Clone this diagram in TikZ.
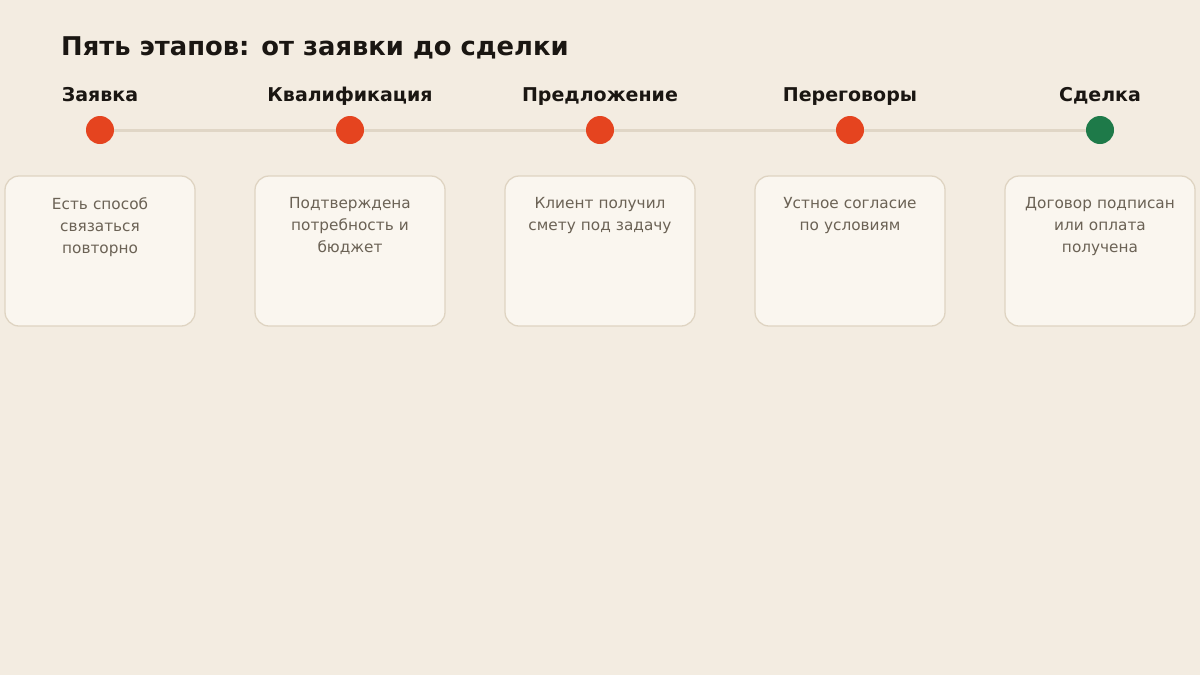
\documentclass[tikz,border=0pt]{standalone}
\usepackage{fontspec}
\setmainfont{DejaVu Sans}
\usepackage{xcolor}
\usetikzlibrary{positioning}
\definecolor{paper}{HTML}{F3ECE1}
\definecolor{cardfill}{HTML}{FAF6EF}
\definecolor{cardline}{HTML}{DFD4C2}
\definecolor{trackline}{HTML}{E0D6C6}
\definecolor{dotred}{HTML}{E5441F}
\definecolor{dotgreen}{HTML}{1E7A49}
\definecolor{inktext}{HTML}{1A1612}
\definecolor{graytext}{HTML}{6B6255}

\begin{document}
\begin{tikzpicture}[x=1pt,y=-1pt,
    stagedot/.style={circle, minimum size=28pt, inner sep=0pt, fill=dotred},
    stagename/.style={anchor=base, inner sep=0pt, text=inktext, font=\bfseries\fontsize{19}{22}\selectfont},
    card/.style={draw=cardline, line width=1.3pt, fill=cardfill, rounded corners=14pt,
                 minimum width=190pt, minimum height=150pt, inner sep=0pt},
    cardtext/.style={anchor=north, inner sep=0pt, text width=178pt, align=center,
                     text=graytext, font=\fontsize{15.3}{22}\selectfont},
    track/.style={draw=trackline, line width=3pt}]
            % page and background
            \useasboundingbox[fill=paper] (0,0) rectangle (1200,675);

            \node[anchor=base west, inner sep=0pt, text=inktext,
                  font=\bfseries\fontsize{25.8}{30}\selectfont] (title) at (61,55)
                  {Пять этапов: от заявки до сделки};

            % the five stage dots
            \node[stagedot] (s1) at (100,130) {};
            \node[stagedot] (s2) at (350,130) {};
            \node[stagedot] (s3) at (600,130) {};
            \node[stagedot] (s4) at (850,130) {};
            \node[stagedot, fill=dotgreen] (s5) at (1100,130) {};

            \draw[track] (s1) -- (s2);
            \draw[track] (s2) -- (s3);
            \draw[track] (s3) -- (s4);
            \draw[track] (s4) -- (s5);

            % stage names above the dots
            \node[stagename] (n1) at (100,101) {Заявка};
            \node[stagename] (n2) at (350,101) {Квалификация};
            \node[stagename] (n3) at (600,101) {Предложение};
            \node[stagename] (n4) at (850,101) {Переговоры};
            \node[stagename] (n5) at (1100,101) {Сделка};

            % cards with the exit criteria
            \node[card] (c1) at (100,251) {};
            \node[card] (c2) at (350,251) {};
            \node[card] (c3) at (600,251) {};
            \node[card] (c4) at (850,251) {};
            \node[card] (c5) at (1100,251) {};

            \node[cardtext, below=22pt of c1.north] (t1) {Есть способ\\ связаться\\ повторно};
            \node[cardtext, below=22pt of c2.north] (t2) {Подтверждена\\ потребность и\\ бюджет};
            \node[cardtext, below=22pt of c3.north] (t3) {Клиент получил\\ смету под задачу};
            \node[cardtext, below=22pt of c4.north] (t4) {Устное согласие\\ по условиям};
            \node[cardtext, below=22pt of c5.north] (t5) {Договор подписан\\ или оплата\\ получена};
        \end{tikzpicture}
\end{document}
